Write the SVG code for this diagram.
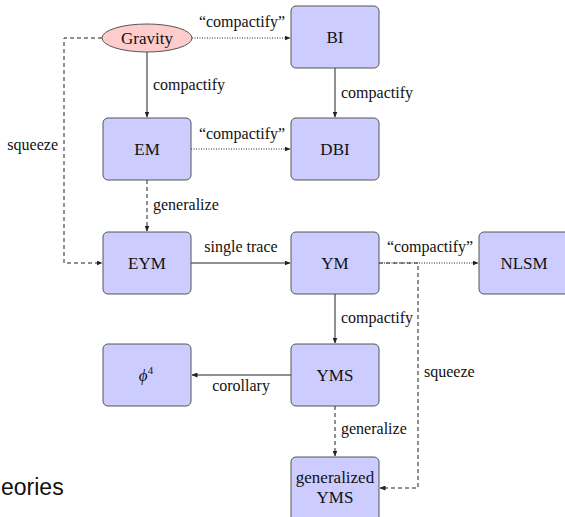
<svg xmlns="http://www.w3.org/2000/svg" width="565" height="517" viewBox="0 0 565 517">
<style>
.box{fill:#ccccff;stroke:#555;stroke-width:1}
.ell{fill:#ffcccc;stroke:#555;stroke-width:1}
.nt{font-size:17px;fill:#111;text-anchor:middle}
.el{font-size:16px;fill:#111}
.c{text-anchor:middle}
.ln{fill:none;stroke:#222;stroke-width:1}
.dash{stroke-dasharray:4 3}
.dot{stroke-dasharray:1 1.5}
</style>
<defs>
<marker id="ah" markerWidth="6" markerHeight="5" refX="5.5" refY="2.5" orient="auto" markerUnits="userSpaceOnUse">
<path d="M0,0 L6,2.5 L0,5 z" fill="#222"/>
</marker>
</defs>
<g font-family="Liberation Serif, Times New Roman, serif">
<g id="connectors">
<path class="ln" d="M147,52 V117" marker-end="url(#ah)"/>
<path class="ln dot" d="M192,38 H290" marker-end="url(#ah)"/>
<path class="ln dash" d="M102,38 H64 V263 H102" marker-end="url(#ah)"/>
<path class="ln" d="M335,68 V117" marker-end="url(#ah)"/>
<path class="ln dot" d="M191,149 H290" marker-end="url(#ah)"/>
<path class="ln dash" d="M147,180 V231" marker-end="url(#ah)"/>
<path class="ln" d="M191,263 H290" marker-end="url(#ah)"/>
<path class="ln dot" d="M379,263 H478" marker-end="url(#ah)"/>
<path class="ln dash" d="M379,263 H418 V488 H380" marker-end="url(#ah)"/>
<path class="ln" d="M335,294 V343" marker-end="url(#ah)"/>
<path class="ln" d="M291,375 H192" marker-end="url(#ah)"/>
<path class="ln dash" d="M335,406 V456" marker-end="url(#ah)"/>
<text class="el" x="153" y="90">compactify</text>
<text class="el c" x="242" y="27">“compactify”</text>
<text class="el" x="58" y="150" text-anchor="end">squeeze</text>
<text class="el" x="341" y="98">compactify</text>
<text class="el c" x="242" y="139">“compactify”</text>
<text class="el" x="153" y="210">generalize</text>
<text class="el c" x="241" y="252">single trace</text>
<text class="el c" x="430" y="252">“compactify”</text>
<text class="el" x="341" y="323">compactify</text>
<text class="el" x="424" y="377">squeeze</text>
<text class="el c" x="241" y="391">corollary</text>
<text class="el" x="341" y="434">generalize</text>
</g>
<g id="gravity"><ellipse class="ell" cx="147" cy="38" rx="45" ry="14"/><text class="nt" x="147" y="44">Gravity</text></g>
<g id="bi"><rect class="box" x="291" y="6" width="88" height="62" rx="5"/><text class="nt" x="335" y="43">BI</text></g>
<g id="em"><rect class="box" x="103" y="118" width="88" height="62" rx="5"/><text class="nt" x="147" y="155">EM</text></g>
<g id="dbi"><rect class="box" x="291" y="118" width="88" height="62" rx="5"/><text class="nt" x="335" y="155">DBI</text></g>
<g id="eym"><rect class="box" x="103" y="232" width="88" height="62" rx="5"/><text class="nt" x="147" y="269">EYM</text></g>
<g id="ym"><rect class="box" x="291" y="232" width="88" height="62" rx="5"/><text class="nt" x="335" y="269">YM</text></g>
<g id="nlsm"><rect class="box" x="479" y="232" width="92" height="62" rx="5"/><text class="nt" x="524" y="269">NLSM</text></g>
<g id="phi4"><rect class="box" x="103" y="344" width="88" height="62" rx="5"/><text class="nt" x="146" y="381"><tspan font-style="italic">ϕ</tspan><tspan font-size="11" dy="-7">4</tspan></text></g>
<g id="yms"><rect class="box" x="291" y="344" width="88" height="62" rx="5"/><text class="nt" x="335" y="381">YMS</text></g>
<g id="genyms"><rect class="box" x="291" y="457" width="88" height="66" rx="5"/><text class="nt" x="335" y="483">generalized</text><text class="nt" x="335" y="503">YMS</text></g>
</g>
<text x="1" y="495" font-family="Liberation Sans, Arial, sans-serif" font-size="23" fill="#111">eories</text>
</svg>
